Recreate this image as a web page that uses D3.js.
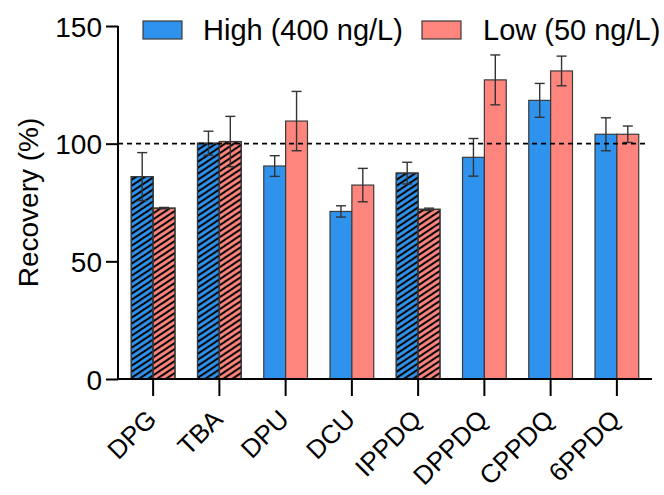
<!DOCTYPE html>
<html>
<head>
<meta charset="utf-8">
<script src="https://cdn.jsdelivr.net/npm/d3@7"></script>
<style>
  html, body { margin: 0; padding: 0; background: #fff; }
  text { font-family: "Liberation Sans", Arial, sans-serif; }
</style>
</head>
<body>
<div id="chart"></div>
<script>
const categories = ['DPG', 'TBA', 'DPU', 'DCU', 'IPPDQ', 'DPPDQ', 'CPPDQ', '6PPDQ'];
const highMean = [86.0, 100.2, 90.5, 71.2, 87.5, 94.2, 118.4, 104.0];
const highErr = [10.2, 5.1, 4.4, 2.4, 4.6, 8.0, 7.2, 7.0];
const lowMean = [72.6, 100.9, 109.6, 82.4, 72.1, 127.1, 130.9, 104.0];
const lowErr = [0.3, 10.7, 12.6, 7.1, 0.5, 10.6, 6.3, 3.5];
const hatched = [true, true, false, false, true, false, false, false];
const seriesNames = ['High (400 ng/L)', 'Low (50 ng/L)'];
const yTicks = [0, 50, 100, 150];

const width = 664;
const height = 495;
const colors = { high: '#2f93ee', low: '#fe857d' };

const svg = d3.select('#chart').append('svg')
    .attr('width', width)
    .attr('height', height);

// hatch pattern (lines rising to the right)
const defs = svg.append('defs');
defs.append('pattern')
    .attr('id', 'hatch')
    .attr('patternUnits', 'userSpaceOnUse')
    .attr('width', 9)
    .attr('height', 6)
    .append('path')
    .attr('d', 'M-3,2 L3,-2 M0,6 L9,0 M6,8 L12,4')
    .attr('stroke', '#000')
    .attr('stroke-width', 1.9);

const x = d3.scaleBand()
    .domain(categories)
    .range([120, 650])
    .paddingInner(0.34)
    .paddingOuter(0.17);

const x1 = d3.scaleBand()
    .domain(['high', 'low'])
    .range([0, x.bandwidth()]);

const y = d3.scaleLinear()
    .domain([0, 150])
    .range([379, 26]);

const axisX0 = 118;

const rows = categories.map((c, i) => ({
    cat: c, hatched: hatched[i],
    bars: [
        { key: 'high', mean: highMean[i], err: highErr[i] },
        { key: 'low', mean: lowMean[i], err: lowErr[i] }
    ]
}));

// bars
const groups = svg.append('g').selectAll('g')
    .data(rows)
    .join('g')
    .attr('transform', d => `translate(${x(d.cat)},0)`);

groups.each(function(row) {
    const g = d3.select(this);
    row.bars.forEach(b => {
        g.append('rect')
            .attr('x', x1(b.key))
            .attr('y', y(b.mean))
            .attr('width', x1.bandwidth())
            .attr('height', y(0) - y(b.mean))
            .attr('fill', colors[b.key])
            .attr('stroke', '#3a3a3a')
            .attr('stroke-width', 1.2);
        if (row.hatched) {
            g.append('rect')
                .attr('x', x1(b.key))
                .attr('y', y(b.mean))
                .attr('width', x1.bandwidth())
                .attr('height', y(0) - y(b.mean))
                .attr('fill', 'url(#hatch)')
                .attr('stroke', '#3a3a3a')
                .attr('stroke-width', 1.2);
        }
    });
});

// dashed reference line at 100
svg.append('line')
    .attr('x1', axisX0)
    .attr('x2', 648)
    .attr('y1', y(100))
    .attr('y2', y(100))
    .attr('stroke', '#000')
    .attr('stroke-width', 1.6)
    .attr('stroke-dasharray', '5,4');

// error bars
groups.each(function(row) {
    const g = d3.select(this);
    row.bars.forEach(b => {
        const cx = x1(b.key) + x1.bandwidth() / 2;
        const eb = g.append('g')
            .attr('stroke', '#333')
            .attr('stroke-width', 1.4);
        eb.append('line')
            .attr('x1', cx).attr('x2', cx)
            .attr('y1', y(b.mean + b.err)).attr('y2', y(b.mean - b.err));
        [b.mean + b.err, b.mean - b.err].forEach(v => {
            eb.append('line')
                .attr('x1', cx - 5).attr('x2', cx + 5)
                .attr('y1', y(v)).attr('y2', y(v));
        });
    });
});

// y axis
const yAxis = svg.append('g')
    .attr('transform', `translate(${axisX0},0)`)
    .call(d3.axisLeft(y).tickValues(yTicks).tickSize(12).tickPadding(4));
yAxis.select('.domain').attr('stroke-width', 2).attr('d', `M0,${y(150)}V${y(0)}`);
yAxis.selectAll('.tick line').attr('stroke-width', 2);
yAxis.selectAll('.tick text')
    .attr('font-size', 28)
    .attr('fill', '#000')
    .attr('dy', '0.36em');

// x axis
const xAxis = svg.append('g')
    .attr('transform', `translate(0,${y(0)})`)
    .call(d3.axisBottom(x).tickSize(17).tickFormat(''));
xAxis.select('.domain').remove();
xAxis.selectAll('.tick line').attr('stroke-width', 2);
xAxis.append('line')
    .attr('x1', axisX0 - 1)
    .attr('x2', 652)
    .attr('stroke', '#000')
    .attr('stroke-width', 2);

svg.append('g').selectAll('text')
    .data(categories)
    .join('text')
    .attr('transform', d => `translate(${x(d) + x.bandwidth() / 2 + 5},${y(0) + 42}) rotate(-45)`)
    .attr('text-anchor', 'end')
    .attr('font-size', 26)
    .attr('fill', '#000')
    .text(d => d);

// y axis title
svg.append('text')
    .attr('transform', `translate(38,${(y(0) + y(150)) / 2}) rotate(-90)`)
    .attr('text-anchor', 'middle')
    .attr('font-size', 28)
    .attr('fill', '#000')
    .text('Recovery (%)');

// legend
const legend = [
    { key: 'high', label: seriesNames[0], rx: 143, tx: 203 },
    { key: 'low', label: seriesNames[1], rx: 422, tx: 483 }
];
const lg = svg.append('g').selectAll('g')
    .data(legend)
    .join('g');
lg.append('rect')
    .attr('x', d => d.rx)
    .attr('y', 21)
    .attr('width', 39)
    .attr('height', 18)
    .attr('fill', d => colors[d.key])
    .attr('stroke', '#3a3a3a')
    .attr('stroke-width', 1.2);
lg.append('text')
    .attr('x', d => d.tx)
    .attr('y', 40)
    .attr('font-size', 29)
    .attr('fill', '#000')
    .text(d => d.label);
</script>
</body>
</html>
